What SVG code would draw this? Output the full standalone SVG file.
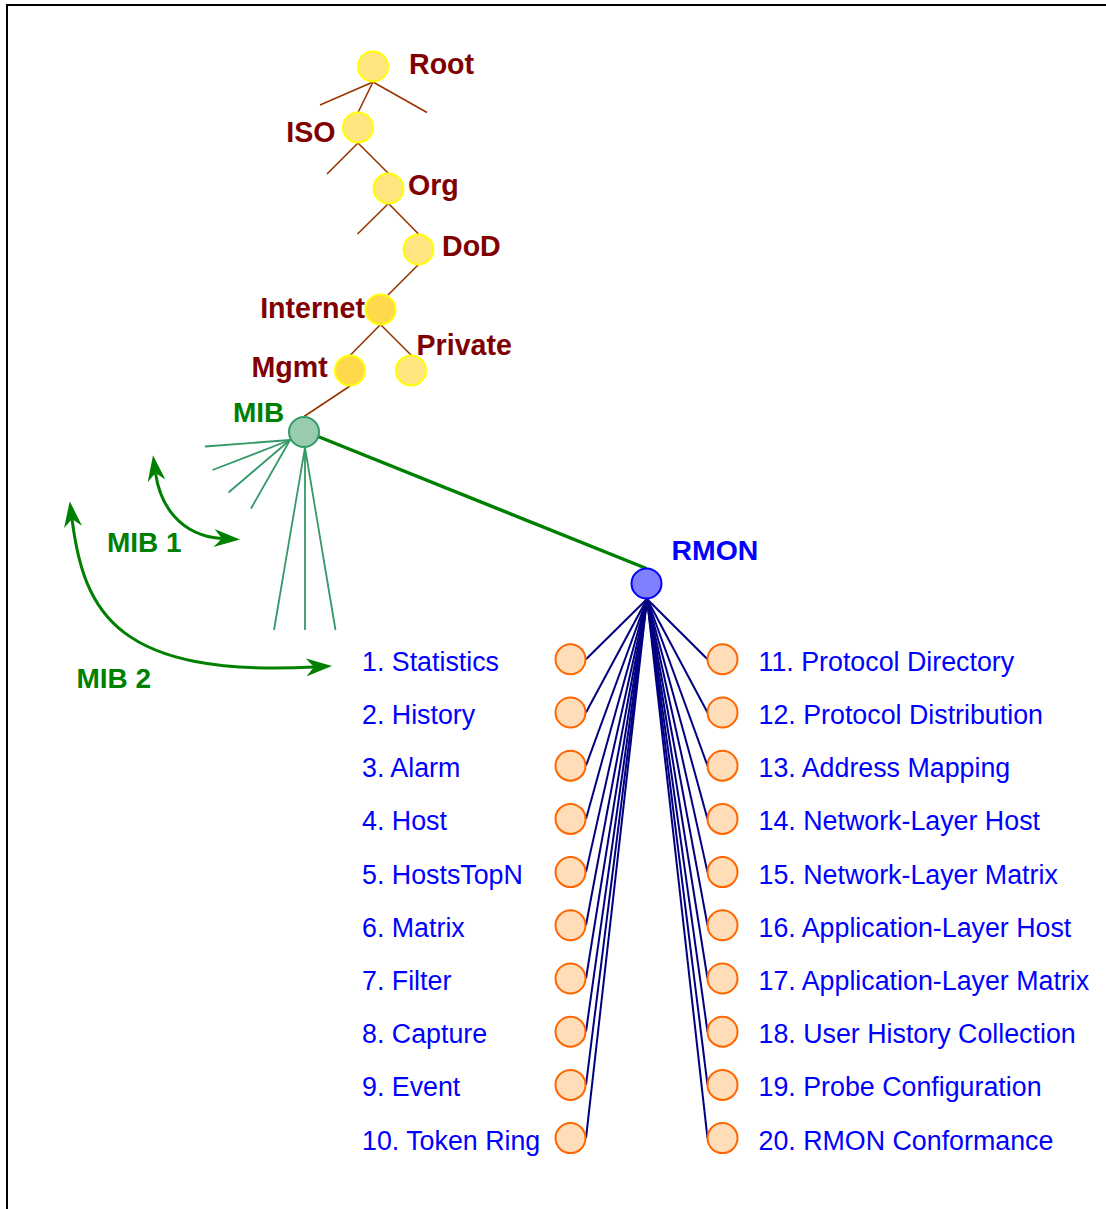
<svg xmlns="http://www.w3.org/2000/svg" width="1106" height="1209" viewBox="0 0 1106 1209">
  <style>
    text { font-family: "Liberation Sans", Arial, sans-serif; }
    .tl { font-size: 28.6px; font-weight: bold; fill: #800000; }
    .gl { font-size: 28px; font-weight: bold; fill: #008000; }
    .bl { font-size: 28.4px; font-weight: bold; fill: #0000FF; }
    .item { font-size: 26.8px; fill: #0000FF; }
    .tnode { fill: #FFE57F; stroke: #FFFF00; stroke-width: 2; }
    .tnode2 { fill: #FFD94C; stroke: #FFFF00; stroke-width: 2; }
    .leaf { fill: #FFDDB8; stroke: #FF6600; stroke-width: 2; }
    .tree { stroke: #993300; stroke-width: 1.6; fill: none; }
    .fan { stroke: #339966; stroke-width: 1.8; fill: none; }
    .rl { stroke: #000080; stroke-width: 2; fill: none; }
    .arc { stroke: #008000; stroke-width: 3; fill: none; marker-start: url(#barb); marker-end: url(#barb); }
  </style>
  <defs>
    <marker id="barb" viewBox="0 0 26 18" refX="8" refY="9" markerWidth="26" markerHeight="18" markerUnits="userSpaceOnUse" orient="auto-start-reverse">
      <path d="M0,0 L26,9 L0,18 L8,9 z" fill="#008000"/>
    </marker>
  </defs>

  <rect width="1106" height="1209" fill="#FFFFFF"/>
  <path d="M7,1209 L7,5 L1106,5" fill="none" stroke="#000000" stroke-width="2"/>

  <g id="connectors">
    <!-- OID tree branches -->
    <g class="tree">
      <line x1="373" y1="82" x2="320" y2="105"/>
      <line x1="373" y1="82" x2="427" y2="112.5"/>
      <line x1="373" y1="82" x2="358" y2="112.5"/>
      <line x1="358" y1="143" x2="327" y2="174"/>
      <line x1="358" y1="143" x2="388.5" y2="173.5"/>
      <line x1="388.5" y1="203.5" x2="357.5" y2="234"/>
      <line x1="388.5" y1="203.5" x2="418.5" y2="234"/>
      <line x1="418.5" y1="264.5" x2="388" y2="295"/>
      <line x1="380.5" y1="324.5" x2="350" y2="355.5"/>
      <line x1="380.5" y1="324.5" x2="411.5" y2="355.5"/>
      <line x1="350" y1="386" x2="304" y2="416.5"/>
    </g>
    <!-- MIB sub-branches -->
    <g class="fan">
      <line x1="290" y1="440" x2="205" y2="446.5"/>
      <line x1="290" y1="440" x2="212.5" y2="470"/>
      <line x1="290" y1="440" x2="228.5" y2="492.5"/>
      <line x1="290" y1="440" x2="251" y2="508.5"/>
      <line x1="305" y1="447.5" x2="274" y2="630"/>
      <line x1="305" y1="447.5" x2="305" y2="630"/>
      <line x1="305" y1="447.5" x2="335.5" y2="630"/>
    </g>
    <line x1="318" y1="436.5" x2="646.5" y2="568.5" stroke="#008000" stroke-width="3.5"/>
    <!-- MIB-1 / MIB-2 span arrows -->
    <path class="arc" d="M155.5,473 C160,505 180,536 222,538.5"/>
    <path class="arc" d="M72,519 C84,614 118,677 314,667"/>
    <!-- RMON groups -->
    <g class="rl">
      <line x1="647" y1="599" x2="586" y2="659.3"/>
      <line x1="647" y1="599" x2="586" y2="712.5"/>
      <line x1="647" y1="599" x2="586" y2="765.7"/>
      <line x1="647" y1="599" x2="586" y2="818.9"/>
      <line x1="647" y1="599" x2="586" y2="872.1"/>
      <line x1="647" y1="599" x2="586" y2="925.3"/>
      <line x1="647" y1="599" x2="586" y2="978.5"/>
      <line x1="647" y1="599" x2="586" y2="1031.7"/>
      <line x1="647" y1="599" x2="586" y2="1084.9"/>
      <line x1="647" y1="599" x2="586" y2="1138.1"/>
      <line x1="647" y1="599" x2="707.5" y2="659.3"/>
      <line x1="647" y1="599" x2="707.5" y2="712.5"/>
      <line x1="647" y1="599" x2="707.5" y2="765.7"/>
      <line x1="647" y1="599" x2="707.5" y2="818.9"/>
      <line x1="647" y1="599" x2="707.5" y2="872.1"/>
      <line x1="647" y1="599" x2="707.5" y2="925.3"/>
      <line x1="647" y1="599" x2="707.5" y2="978.5"/>
      <line x1="647" y1="599" x2="707.5" y2="1031.7"/>
      <line x1="647" y1="599" x2="707.5" y2="1084.9"/>
      <line x1="647" y1="599" x2="707.5" y2="1138.1"/>
    </g>
  </g>

  <!-- OID tree -->
  <g id="root"><circle class="tnode" cx="373" cy="66.5" r="15"/><text class="tl" x="409" y="74">Root</text></g>
  <g id="iso"><circle class="tnode" cx="358" cy="127.5" r="15"/><text class="tl" x="335.5" y="141.5" text-anchor="end">ISO</text></g>
  <g id="org"><circle class="tnode" cx="388.5" cy="188.5" r="15"/><text class="tl" x="408" y="195">Org</text></g>
  <g id="dod"><circle class="tnode" cx="418.5" cy="249.5" r="15"/><text class="tl" x="442" y="255.5">DoD</text></g>
  <g id="internet"><circle class="tnode2" cx="380.5" cy="309.5" r="15"/><text class="tl" x="365" y="317.5" text-anchor="end">Internet</text></g>
  <g id="mgmt"><circle class="tnode2" cx="350" cy="370.5" r="15"/><text class="tl" x="251.5" y="376.5">Mgmt</text></g>
  <g id="private"><circle class="tnode" cx="411" cy="370.5" r="15"/><text class="tl" x="416.5" y="354.5">Private</text></g>
  <g id="mib"><circle cx="304" cy="432" r="15" fill="#99CCAF" stroke="#339966" stroke-width="2"/><text class="gl" x="233" y="421.5">MIB</text></g>
  <g id="mib1-label"><text class="gl" x="107" y="551.5">MIB 1</text></g>
  <g id="mib2-label"><text class="gl" x="76.5" y="688">MIB 2</text></g>
  <g id="rmon"><circle cx="646.5" cy="583.5" r="15" fill="#8080FF" stroke="#0000FF" stroke-width="2"/><text class="bl" x="671.5" y="559.5">RMON</text></g>

  <!-- RMON groups, left column -->
  <g id="g1"><circle class="leaf" cx="570.5" cy="659.3" r="15"/><text class="item" x="362" y="670.8">1. Statistics</text></g>
  <g id="g2"><circle class="leaf" cx="570.5" cy="712.5" r="15"/><text class="item" x="362" y="724">2. History</text></g>
  <g id="g3"><circle class="leaf" cx="570.5" cy="765.7" r="15"/><text class="item" x="362" y="777.2">3. Alarm</text></g>
  <g id="g4"><circle class="leaf" cx="570.5" cy="818.9" r="15"/><text class="item" x="362" y="830.4">4. Host</text></g>
  <g id="g5"><circle class="leaf" cx="570.5" cy="872.1" r="15"/><text class="item" x="362" y="883.6">5. HostsTopN</text></g>
  <g id="g6"><circle class="leaf" cx="570.5" cy="925.3" r="15"/><text class="item" x="362" y="936.8">6. Matrix</text></g>
  <g id="g7"><circle class="leaf" cx="570.5" cy="978.5" r="15"/><text class="item" x="362" y="990">7. Filter</text></g>
  <g id="g8"><circle class="leaf" cx="570.5" cy="1031.7" r="15"/><text class="item" x="362" y="1043.2">8. Capture</text></g>
  <g id="g9"><circle class="leaf" cx="570.5" cy="1084.9" r="15"/><text class="item" x="362" y="1096.4">9. Event</text></g>
  <g id="g10"><circle class="leaf" cx="570.5" cy="1138.1" r="15"/><text class="item" x="362" y="1149.6">10. Token Ring</text></g>

  <!-- RMON groups, right column -->
  <g id="g11"><circle class="leaf" cx="722.5" cy="659.3" r="15"/><text class="item" x="758.5" y="670.8">11. Protocol Directory</text></g>
  <g id="g12"><circle class="leaf" cx="722.5" cy="712.5" r="15"/><text class="item" x="758.5" y="724">12. Protocol Distribution</text></g>
  <g id="g13"><circle class="leaf" cx="722.5" cy="765.7" r="15"/><text class="item" x="758.5" y="777.2">13. Address Mapping</text></g>
  <g id="g14"><circle class="leaf" cx="722.5" cy="818.9" r="15"/><text class="item" x="758.5" y="830.4">14. Network-Layer Host</text></g>
  <g id="g15"><circle class="leaf" cx="722.5" cy="872.1" r="15"/><text class="item" x="758.5" y="883.6">15. Network-Layer Matrix</text></g>
  <g id="g16"><circle class="leaf" cx="722.5" cy="925.3" r="15"/><text class="item" x="758.5" y="936.8">16. Application-Layer Host</text></g>
  <g id="g17"><circle class="leaf" cx="722.5" cy="978.5" r="15"/><text class="item" x="758.5" y="990">17. Application-Layer Matrix</text></g>
  <g id="g18"><circle class="leaf" cx="722.5" cy="1031.7" r="15"/><text class="item" x="758.5" y="1043.2">18. User History Collection</text></g>
  <g id="g19"><circle class="leaf" cx="722.5" cy="1084.9" r="15"/><text class="item" x="758.5" y="1096.4">19. Probe Configuration</text></g>
  <g id="g20"><circle class="leaf" cx="722.5" cy="1138.1" r="15"/><text class="item" x="758.5" y="1149.6">20. RMON Conformance</text></g>
</svg>
